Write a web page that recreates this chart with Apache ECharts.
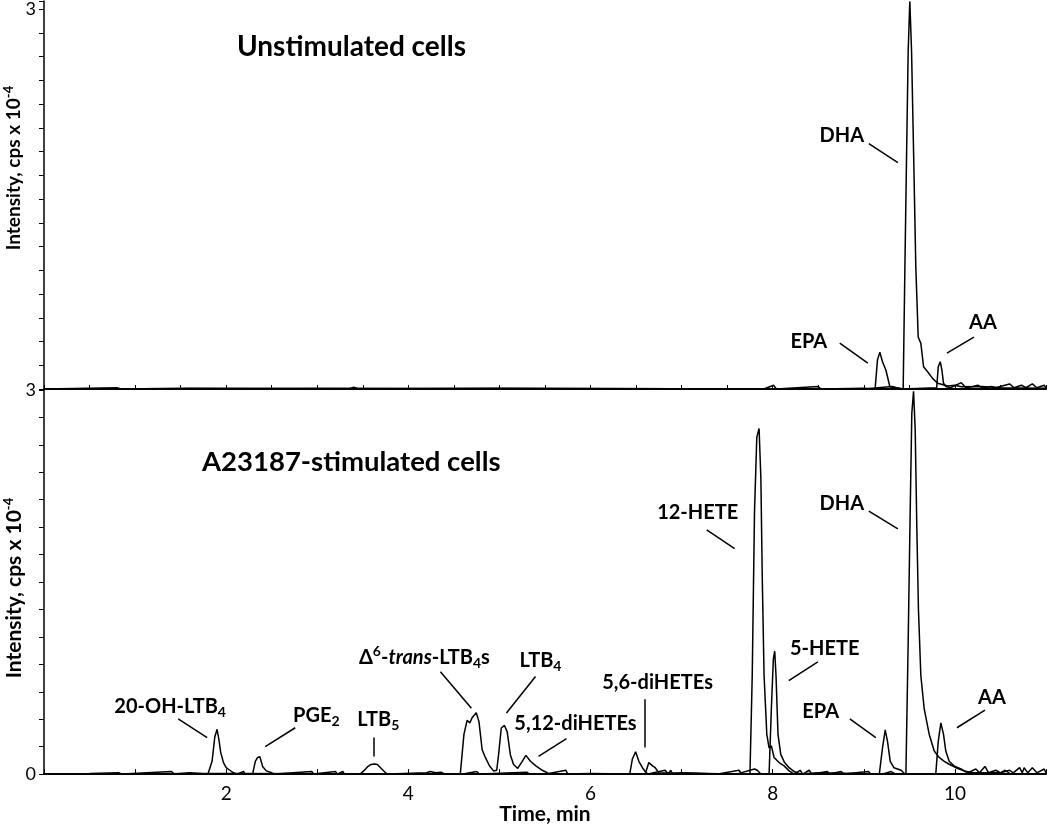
<!DOCTYPE html>
<html>
<head>
<meta charset="utf-8">
<title>Chromatograms</title>
<script src="https://cdn.jsdelivr.net/npm/echarts@6.0.0/dist/echarts.min.js"></script>
<style>
  html, body { margin: 0; padding: 0; background: #fff; }
  #chart { width: 1050px; height: 826px; }
</style>
</head>
<body>
<div id="chart"></div>
<script>
// time (min) vs intensity (cps x 10^-4)
const xTickLabels = [2, 4, 6, 8, 10]

// unstimulated cells
const unstimEpaAaTrace = [
  [0, 0], [0.8, 0.01], [0.85, 0], [1.6, 0.005], [3.35, 0], [3.4, 0.015], [3.45, 0], [5, 0.005],
  [7.9, 0], [8.01, 0.03], [8.04, 0], [8.5, 0.02], [8.53, 0], [9.0, 0.005],
  [9.124, 0], [9.15, 0.23], [9.176, 0.29], [9.205, 0.215], [9.242, 0.15], [9.26, 0.097], [9.286, 0.018], [9.35, 0.01], [9.43, 0],
  [9.8, 0.01], [9.817, 0.175], [9.839, 0.215], [9.857, 0.15], [9.875, 0.045], [9.9, 0.02], [9.95, 0.01],
  [10.07, 0.05], [10.12, 0.01], [10.2, 0.02], [10.25, 0.03], [10.3, 0.01], [10.4, 0.02], [10.45, 0.01],
  [10.6, 0.04], [10.65, 0.01], [10.73, 0.03], [10.78, 0.01], [10.85, 0.04], [10.9, 0.01], [10.98, 0.03], [11, 0.01]
]
const unstimDhaTrace = [
  [0, 0], [3, 0.005], [9.0, 0], [9.31, 0.02], [9.36, 0.01], [9.432, 0],
  [9.451, 0.96], [9.47, 1.88], [9.487, 2.67], [9.505, 3.06], [9.524, 2.67], [9.546, 1.88], [9.571, 0.96],
  [9.597, 0.41], [9.626, 0.36], [9.656, 0.175], [9.7, 0.136], [9.755, 0.084], [9.81, 0.045], [9.92, 0.024],
  [10.0, 0.03], [10.07, 0.018], [10.3, 0.02], [10.5, 0.01], [11, 0.005]
]

// A23187-stimulated cells
const stimEicosanoidTrace = [
  [0, 0], [0.5, 0.005], [0.82, 0.01], [0.86, 0], [1.4, 0.02], [1.43, 0], [1.6, 0.01], [1.8, 0],
  [1.82, 0], [1.845, 0.1], [1.875, 0.29], [1.9, 0.35], [1.92, 0.27], [1.94, 0.17], [1.97, 0.09], [2.0, 0.05], [2.04, 0.03], [2.08, 0.01], [2.12, 0],
  [2.19, 0.02], [2.21, 0],
  [2.29, 0], [2.32, 0.1], [2.345, 0.13], [2.37, 0.135], [2.4, 0.06], [2.44, 0.025], [2.5, 0.01], [2.53, 0],
  [2.94, 0.02], [2.96, 0], [3.2, 0.02], [3.22, 0], [3.28, 0.02], [3.3, 0],
  [3.47, 0], [3.51, 0.025], [3.55, 0.056], [3.59, 0.075], [3.63, 0.078], [3.66, 0.075], [3.7, 0.045], [3.75, 0.01], [3.78, 0],
  [4.2, 0.01], [4.24, 0.02], [4.3, 0.01], [4.36, 0.015], [4.4, 0],
  [4.57, 0], [4.61, 0.31], [4.645, 0.42], [4.675, 0.4], [4.7, 0.44], [4.745, 0.48], [4.775, 0.41], [4.81, 0.19], [4.845, 0.13], [4.89, 0.065], [4.935, 0.025], [4.97, 0.03],
  [4.99, 0.15], [5.02, 0.36], [5.055, 0.38], [5.085, 0.33], [5.12, 0.15], [5.155, 0.075], [5.2, 0.045],
  [5.25, 0.1], [5.29, 0.146], [5.34, 0.1], [5.4, 0.064], [5.47, 0.03], [5.54, 0.005],
  [5.73, 0.03], [5.75, 0], [6.0, 0.005],
  [6.43, 0], [6.46, 0.12], [6.495, 0.174], [6.53, 0.1], [6.57, 0.05], [6.6, 0.02], [6.63, 0],
  [6.82, 0.03], [6.85, 0], [6.88, 0.03], [6.9, 0], [7.0, 0.01], [7.4, 0], [7.63, 0.03], [7.66, 0],
  [7.75, 0], [7.775, 0.77], [7.8, 2.05], [7.825, 2.63], [7.85, 2.7], [7.87, 2.31], [7.885, 1.54], [7.905, 0.77], [7.935, 0.31],
  [7.96, 0.205], [7.985, 0.22], [8.015, 0.13], [8.07, 0.09], [8.125, 0.064], [8.18, 0.025], [8.235, 0],
  [8.3, 0.03], [8.33, 0], [8.4, 0.03], [8.43, 0], [8.6, 0.02], [8.62, 0], [8.75, 0.02], [8.78, 0], [9.05, 0.02], [9.08, 0],
  [9.17, 0], [9.205, 0.205], [9.235, 0.346], [9.26, 0.256], [9.29, 0.1], [9.33, 0.05], [9.41, 0.03], [9.45, 0],
  [9.79, 0], [9.817, 0.256], [9.846, 0.4], [9.875, 0.31], [9.9, 0.18], [9.937, 0.1], [9.99, 0.064], [10.066, 0.04], [10.14, 0.01],
  [10.23, 0.04], [10.27, 0.01], [10.33, 0.06], [10.37, 0.01], [10.45, 0.03], [10.5, 0.01], [10.6, 0.03], [10.64, 0.01],
  [10.71, 0.05], [10.74, 0.01], [10.76, 0.05], [10.8, 0.01], [10.85, 0.05], [10.9, 0.01], [10.98, 0.04], [11, 0.01]
]
const stimHeteDhaTrace = [
  [0, 0], [2, 0.005], [4.6, 0], [4.75, 0.02], [4.78, 0], [5.3, 0.015], [5.33, 0], [6.0, 0],
  [6.6, 0], [6.64, 0.09], [6.68, 0.064], [6.71, 0.05], [6.75, 0.01], [6.77, 0], [7.6, 0], [7.8, 0.04], [7.83, 0.03], [7.87, 0],
  [7.96, 0], [7.985, 0.51], [8.007, 0.9], [8.022, 0.96], [8.036, 0.77], [8.058, 0.31], [8.088, 0.154], [8.13, 0.09], [8.18, 0.05], [8.235, 0.02], [8.31, 0],
  [8.5, 0.01], [9.2, 0], [9.3, 0.02], [9.35, 0],
  [9.462, 0], [9.487, 1.03], [9.509, 2.05], [9.527, 2.82], [9.546, 2.99], [9.564, 2.69], [9.582, 1.92], [9.6, 1.28], [9.626, 0.77],
  [9.663, 0.51], [9.718, 0.31], [9.773, 0.18], [9.827, 0.13], [9.883, 0.1], [9.937, 0.077], [10.01, 0.05], [10.1, 0.025],
  [10.2, 0.01], [10.5, 0.01], [10.55, 0.03], [10.6, 0.005], [11, 0]
]

// peak names, where the name sits and where its leader line runs (data units)
const unstimLabels = [
  { text: '{b|DHA}', at: [8.758, 2.0], line: [[9.055, 1.937], [9.374, 1.787]] },
  { text: '{b|EPA}', at: [8.396, 0.378], line: [[8.736, 0.362], [9.044, 0.205]] },
  { text: '{b|AA}', at: [10.308, 0.528], line: [[10.209, 0.409], [9.912, 0.283]] }
]
const stimLabels = [
  { text: '{b|20-OH-LTB}{sub|4}', at: [1.385, 0.531], line: [[1.473, 0.431], [1.791, 0.285]] },
  { text: '{b|PGE}{sub|2}', at: [2.989, 0.454], line: [[2.429, 0.215], [2.758, 0.362]] },
  { text: '{b|LTB}{sub|5}', at: [3.67, 0.423], line: [[3.615, 0.285], [3.615, 0.138]] },
  { text: '{b|Δ}{sup|6}{b|-}{bi|trans}{b|-LTB}{sub|4}{b|s}', at: [4.176, 0.908], line: [[4.352, 0.8], [4.692, 0.515]] },
  { text: '{b|LTB}{sub|4}', at: [5.451, 0.885], line: [[5.396, 0.762], [5.077, 0.477]] },
  { text: '{b|5,12-diHETEs}', at: [5.835, 0.392], line: [[5.736, 0.277], [5.429, 0.138]] },
  { text: '{b|5,6-diHETEs}', at: [6.736, 0.715], line: [[6.593, 0.585], [6.593, 0.208]] },
  { text: '{b|12-HETE}', at: [7.176, 2.046], line: [[7.275, 1.908], [7.582, 1.762]] },
  { text: '{b|5-HETE}', at: [8.571, 0.977], line: [[8.495, 0.877], [8.176, 0.731]] },
  { text: '{b|EPA}', at: [8.527, 0.485], line: [[8.846, 0.431], [9.132, 0.285]] },
  { text: '{b|DHA}', at: [8.758, 2.115], line: [[9.055, 2.054], [9.374, 1.915]] },
  { text: '{b|AA}', at: [10.407, 0.6], line: [[10.33, 0.5], [10.022, 0.362]] }
]

const FONT = 'Lato, "Open Sans", sans-serif'
const labelRich = {
  b: { fontFamily: FONT, fontWeight: 'bold', fontSize: 20, lineHeight: 26, color: '#000' },
  bi: { fontFamily: FONT, fontWeight: 'bold', fontStyle: 'italic', fontSize: 20, lineHeight: 26, color: '#000' },
  sub: { fontFamily: FONT, fontWeight: 'bold', fontSize: 14, lineHeight: 14, verticalAlign: 'bottom', color: '#000' },
  sup: { fontFamily: FONT, fontWeight: 'bold', fontSize: 14, lineHeight: 16, verticalAlign: 'top', color: '#000' }
}

const traceSeries = (data, idx) => ({
  type: 'line',
  xAxisIndex: idx,
  yAxisIndex: idx,
  data: data,
  symbol: 'none',
  clip: false,
  lineStyle: { color: '#000', width: 1.5 }
})

const labelSeries = (labels, idx) => ({
  type: 'scatter',
  xAxisIndex: idx,
  yAxisIndex: idx,
  symbolSize: 0,
  silent: true,
  itemStyle: { color: 'rgba(0,0,0,0)', opacity: 1 },
  label: {
    show: true,
    position: 'inside',
    color: '#000',
    formatter: (p) => p.data.text,
    rich: labelRich
  },
  data: labels.map(l => ({ value: l.at, text: l.text }))
})

const leaderSeries = (labels, idx) => ({
  type: 'lines',
  coordinateSystem: 'cartesian2d',
  xAxisIndex: idx,
  yAxisIndex: idx,
  silent: true,
  lineStyle: { color: '#000', width: 1.5, opacity: 1 },
  data: labels.map(l => ({ coords: l.line }))
})

const yTitle = (y, size) => ({
  type: 'text', x: 14, y: y, rotation: Math.PI / 2,
  style: {
    text: '{a|Intensity, cps x 10}{s|-4}',
    align: 'center', verticalAlign: 'middle',
    rich: {
      a: { fontFamily: FONT, fontWeight: 'bold', fontSize: size, lineHeight: 24, fill: '#000' },
      s: { fontFamily: FONT, fontWeight: 'bold', fontSize: 13, lineHeight: 12, verticalAlign: 'top', fill: '#000' }
    }
  }
})

const yAxisBase = {
  type: 'value',
  min: 0,
  interval: 3,
  splitLine: { show: false },
  axisLine: { show: true, lineStyle: { color: '#000', width: 1.5 } },
  axisTick: { show: true, inside: false, length: 5, lineStyle: { color: '#000' } },
  axisLabel: { color: '#000', fontFamily: FONT, fontSize: 18, margin: 8 }
}

const chart = echarts.init(document.getElementById('chart'), null, { renderer: 'canvas' })

chart.setOption({
  animation: false,
  backgroundColor: '#fff',
  title: [
    {
      text: 'Unstimulated cells', left: 237, top: 31, padding: 0,
      textStyle: { fontFamily: FONT, fontWeight: 'bold', fontSize: 28, lineHeight: 32, color: '#000' }
    },
    {
      text: 'A23187-stimulated cells', left: 202, top: 446, padding: 0,
      textStyle: { fontFamily: FONT, fontWeight: 'bold', fontSize: 27.5, lineHeight: 32, color: '#000' }
    }
  ],
  grid: [
    { left: 44, right: 4, top: 0, height: 389 },
    { left: 44, right: 4, top: 390, height: 390 }
  ],
  xAxis: [
    {
      type: 'value', gridIndex: 0, min: 0, max: 11, interval: 0.5,
      splitLine: { show: false },
      axisLine: { lineStyle: { color: '#000', width: 2 } },
      axisTick: { inside: true, length: 4, lineStyle: { color: '#000' } },
      axisLabel: { show: false }
    },
    {
      type: 'value', gridIndex: 1, min: 0, max: 11, interval: 1,
      splitLine: { show: false },
      axisLine: { lineStyle: { color: '#000', width: 2 } },
      axisTick: { inside: true, length: 5, lineStyle: { color: '#000' } },
      axisLabel: {
        color: '#000', fontFamily: FONT, fontSize: 19, margin: 10,
        formatter: (v) => (xTickLabels.includes(v) ? String(v) : '')
      },
      name: 'Time, min',
      nameLocation: 'middle',
      nameGap: 26,
      nameTextStyle: { fontFamily: FONT, fontWeight: 'bold', fontSize: 21, color: '#000' }
    }
  ],
  yAxis: [
    Object.assign({}, yAxisBase, {
      gridIndex: 0, max: 3.063,
      minorTick: { show: true, splitNumber: 16, length: 5, lineStyle: { color: '#000' } },
      axisLabel: Object.assign({}, yAxisBase.axisLabel, { formatter: (v) => (v === 3 ? '3' : '') })
    }),
    Object.assign({}, yAxisBase, {
      gridIndex: 1, max: 3,
      minorTick: { show: true, splitNumber: 14, length: 5, lineStyle: { color: '#000' } }
    })
  ],
  graphic: [
    yTitle(168, 19),
    yTitle(588, 21)
  ],
  series: [
    traceSeries(unstimEpaAaTrace, 0),
    traceSeries(unstimDhaTrace, 0),
    traceSeries(stimEicosanoidTrace, 1),
    traceSeries(stimHeteDhaTrace, 1),
    leaderSeries(unstimLabels, 0),
    leaderSeries(stimLabels, 1),
    labelSeries(unstimLabels, 0),
    labelSeries(stimLabels, 1)
  ]
})
</script>
</body>
</html>
